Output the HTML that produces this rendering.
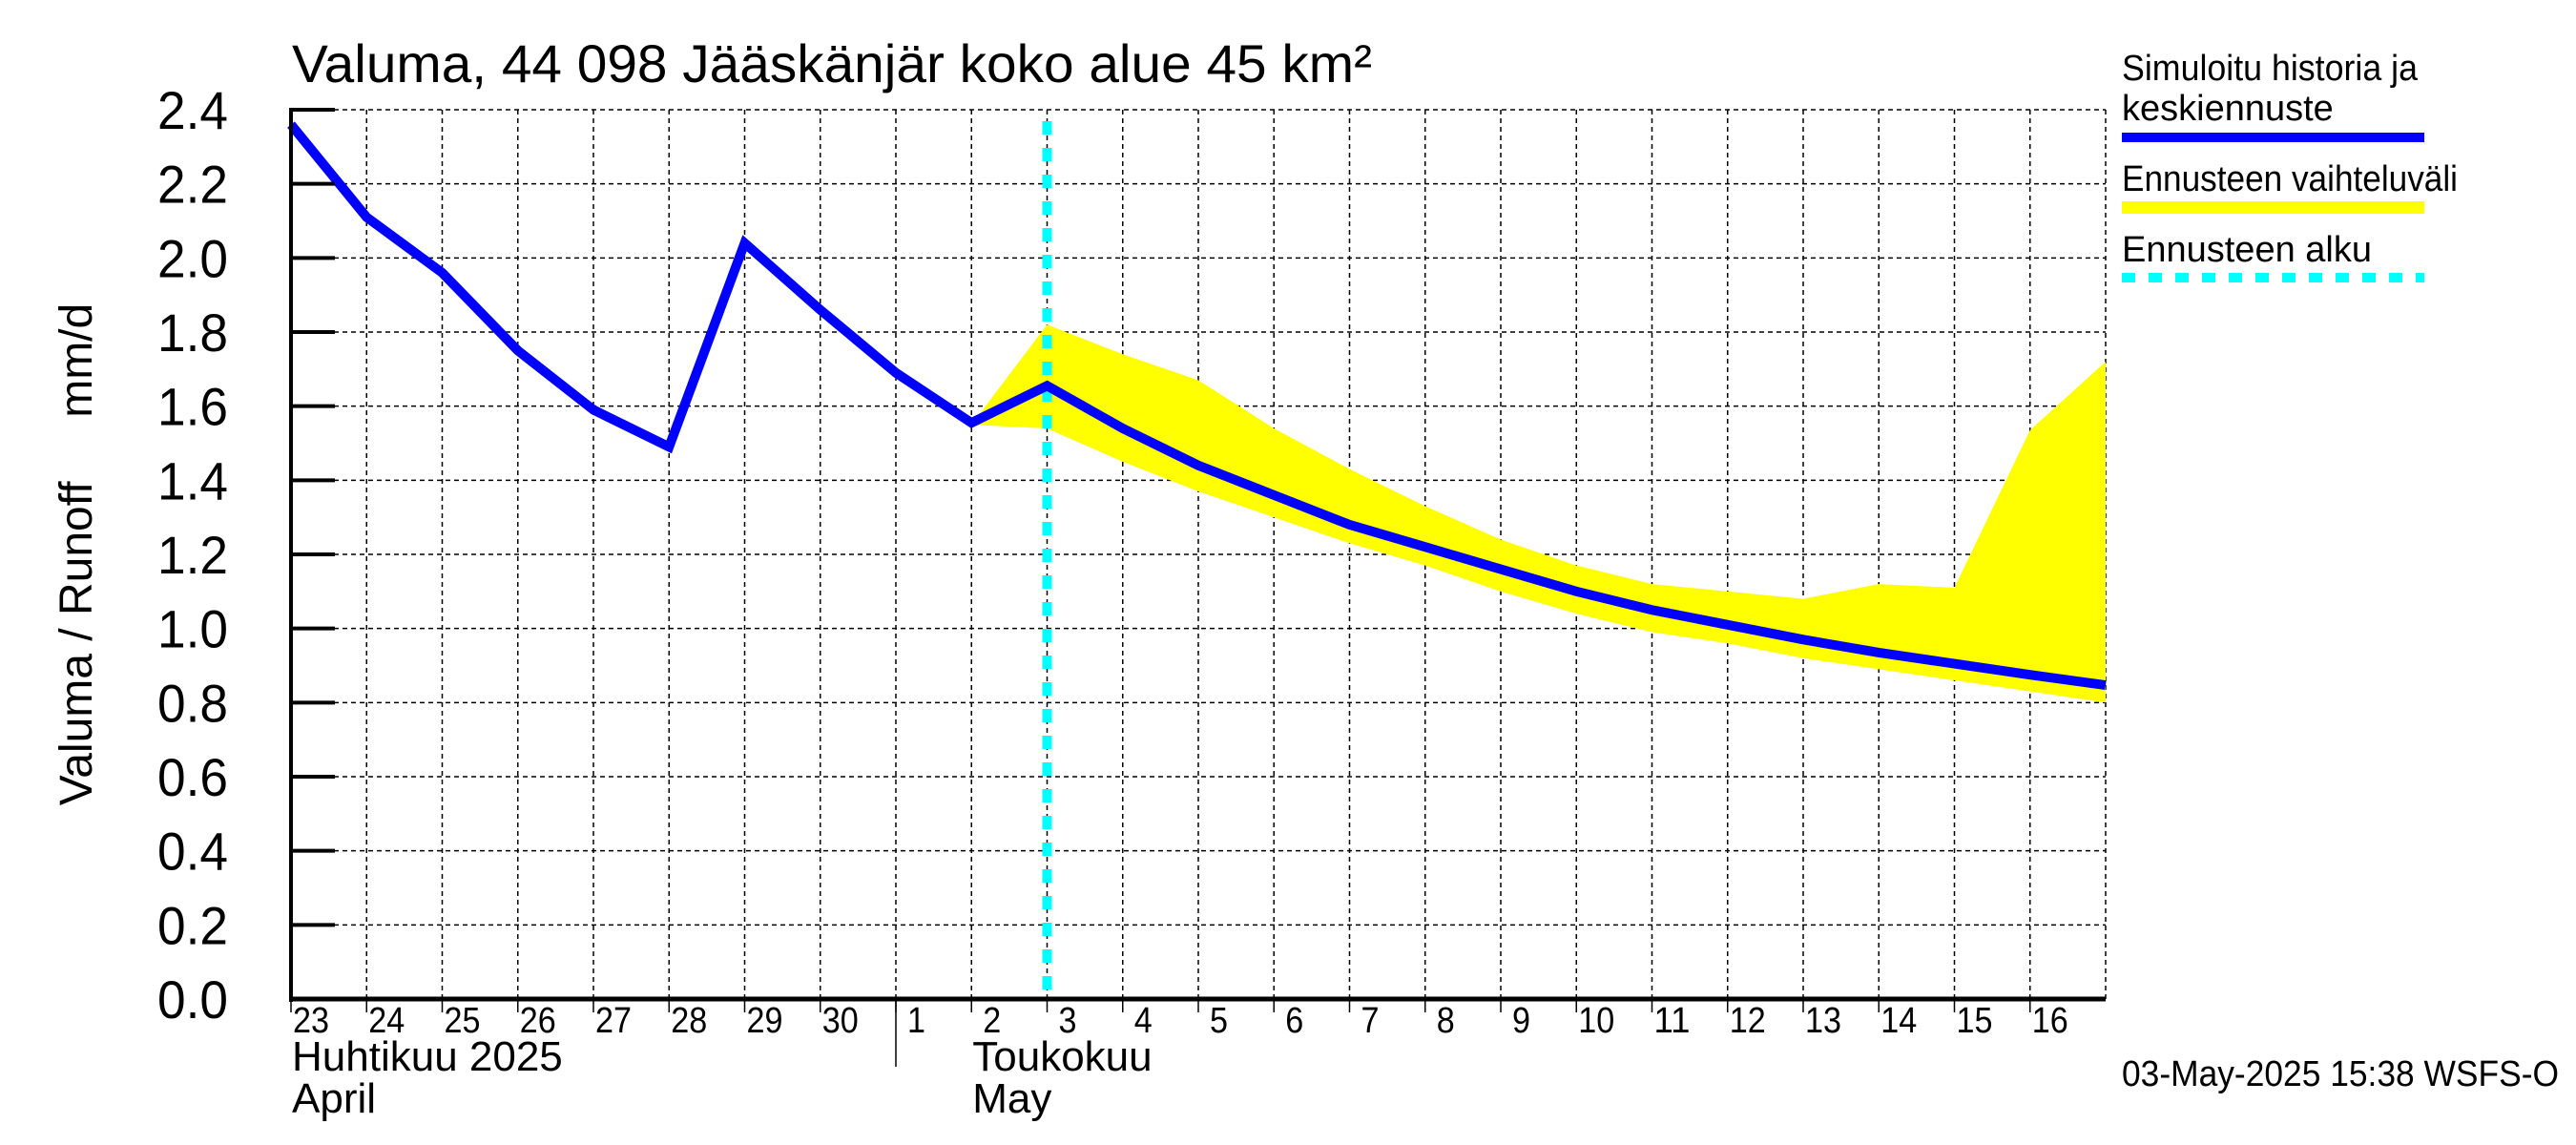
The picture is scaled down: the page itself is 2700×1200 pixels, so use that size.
<!DOCTYPE html>
<html><head><meta charset="utf-8"><style>
html,body{margin:0;padding:0;background:#fff;}
svg{display:block;font-family:"Liberation Sans",sans-serif;}
</style></head><body>
<svg id="chart" width="2700" height="1200" viewBox="0 0 2700 1200" xmlns="http://www.w3.org/2000/svg">
<text x="306" y="86" font-size="56" textLength="1132" lengthAdjust="spacingAndGlyphs">Valuma, 44 098 Jääskänjär koko alue 45 km²</text>
<text transform="translate(96,581) rotate(-90)" font-size="48" text-anchor="middle" xml:space="preserve">Valuma / Runoff     mm/d</text>
<g id="grid"></g>
<g id="band"></g>
<g id="marks"></g>
<g id="axes"></g>
<g>
<text x="2224" y="84" font-size="38" textLength="310" lengthAdjust="spacingAndGlyphs">Simuloitu historia ja</text>
<text x="2224" y="126" font-size="38">keskiennuste</text>
<rect x="2224" y="139" width="317" height="10" fill="#0000ff"/>
<text x="2224" y="200" font-size="38" textLength="352" lengthAdjust="spacingAndGlyphs">Ennusteen vaihteluväli</text>
<rect x="2224" y="211" width="317" height="13" fill="#ffff00"/>
<text x="2224" y="274" font-size="38">Ennusteen alku</text>
<line x1="2224" y1="291" x2="2541" y2="291" stroke="#00ffff" stroke-width="10" stroke-dasharray="14,14"/>
</g>
<text x="2224" y="1138" font-size="38" textLength="458" lengthAdjust="spacingAndGlyphs">03-May-2025 15:38 WSFS-O</text>
</svg>
<script>
const dayLabels = ["23","24","25","26","27","28","29","30","1","2","3","4","5","6","7","8","9","10","11","12","13","14","15","16"];
const yTicks = [0.0,0.2,0.4,0.6,0.8,1.0,1.2,1.4,1.6,1.8,2.0,2.2,2.4];
const simValues = [2.36,2.11,1.96,1.75,1.59,1.49,2.04,1.86,1.69,1.555,1.655,1.54,1.44,1.36,1.28,1.22,1.16,1.10,1.05,1.01,0.97,0.935,0.905,0.875,0.847];
const bandDays = [9,10,11,12,13,14,15,16,17,18,19,20,21,22,23,24];
const bandUpper = [1.55,1.82,1.74,1.67,1.54,1.43,1.33,1.24,1.17,1.12,1.10,1.08,1.12,1.11,1.535,1.72];
const bandLower = [1.55,1.54,1.45,1.37,1.30,1.23,1.17,1.10,1.04,0.99,0.96,0.92,0.89,0.86,0.83,0.80];
const forecastStartDay = 10;

const X0=305, X1=2207, Y0=1047, Y1=115, NDAYS=24, YMAX=2.4;
const xs = d => X0 + (X1-X0)*d/NDAYS;
const ys = v => Y0 - (Y0-Y1)*v/YMAX;
const NS="http://www.w3.org/2000/svg";
function mk(tag, attrs, parent){const e=document.createElementNS(NS,tag);for(const k in attrs)e.setAttribute(k,attrs[k]);parent.appendChild(e);return e;}
const grid=document.getElementById('grid'), band=document.getElementById('band'), marks=document.getElementById('marks'), axes=document.getElementById('axes');

for(let d=1; d<=NDAYS; d++){
  const l=mk('line',{x1:xs(d),x2:xs(d),y1:Y1,y2:Y0,stroke:'#000','stroke-width':1.5,'stroke-dasharray':'5,4'},grid);
  
  
}
yTicks.forEach(v=>{
  if(v===0) return;
  const l=mk('line',{x1:X0,x2:X1,y1:ys(v),y2:ys(v),stroke:'#000','stroke-width':1.5,'stroke-dasharray':'5,4'},grid);
  
  
});

let pts=bandDays.map((d,i)=>xs(d)+','+ys(bandUpper[i]));
for(let i=bandDays.length-1;i>=0;i--) pts.push(xs(bandDays[i])+','+ys(bandLower[i]));
const poly=mk('polygon',{points:pts.join(' '),fill:'#ffff00'},band);



const fl=mk('line',{x1:xs(forecastStartDay),x2:xs(forecastStartDay),y1:Y1+12,y2:Y0,stroke:'#00ffff','stroke-width':10,'stroke-dasharray':'14,14'},marks);



const sp=mk('polyline',{points:simValues.map((v,i)=>xs(i)+','+ys(v)).join(' '),fill:'none',stroke:'#0000ff','stroke-width':10,'stroke-linejoin':'miter'},marks);



const ya=mk('line',{x1:X0,x2:X0,y1:Y1-2,y2:Y0+3,stroke:'#000','stroke-width':4},axes);


const xa=mk('line',{x1:X0-2,x2:X1,y1:Y0,y2:Y0,stroke:'#000','stroke-width':5},axes);



yTicks.forEach(v=>{
  const t=mk('line',{x1:X0,x2:X0+46,y1:ys(v),y2:ys(v),stroke:'#000','stroke-width':4},axes);
  
  
  const lb=mk('text',{x:239,y:ys(v)+20,'font-size':56,'text-anchor':'end',textLength:74,lengthAdjust:'spacingAndGlyphs'},axes);
  lb.textContent=v.toFixed(1);
  
  
});
dayLabels.forEach((s,i)=>{
  const t=mk('line',{x1:xs(i),x2:xs(i),y1:Y0,y2:Y0+14,stroke:'#000','stroke-width':1.5},axes);
  
  
  const lb=mk('text',{x:xs(i)+(s.length===1?12:2),y:1082,'font-size':38,textLength:s.length*19,lengthAdjust:'spacingAndGlyphs'},axes);
  lb.textContent=s;
  
  
});
const ms=mk('line',{x1:xs(8),x2:xs(8),y1:Y0,y2:1118,stroke:'#000','stroke-width':1.5},axes);


[["Huhtikuu  2025",0,1122,'month-label-fi-april'],["April",0,1166,'month-label-en-april'],["Toukokuu",9,1122,'month-label-fi-may'],["May",9,1166,'month-label-en-may']].forEach(a=>{
  const lb=mk('text',{x:xs(a[1])+1,y:a[2],'font-size':44},axes);
  lb.setAttribute('xml:space','preserve');
  lb.textContent=a[0];
  
  
});
</script>
</body></html>
